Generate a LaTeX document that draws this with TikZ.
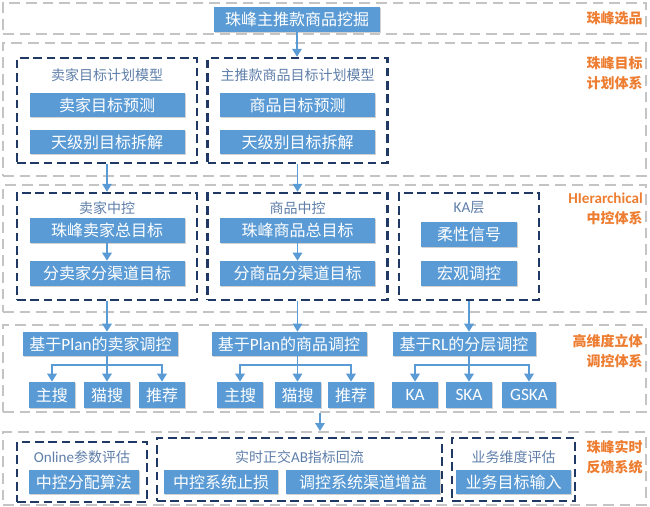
\documentclass[tikz,border=0pt]{standalone}
\usepackage{fontspec}
\setmainfont{Noto Sans CJK SC}
\newfontfamily\latfont[Scale=1.08]{Carlito}
\usetikzlibrary{positioning, arrows.meta, calc, shadows}
\definecolor{zfBlue}{HTML}{5B9BD5}
\definecolor{zfNavy}{HTML}{1F3864}
\definecolor{zfGray}{HTML}{C4C4C4}
\definecolor{zfOrange}{HTML}{ED7D31}
\definecolor{zfSteel}{HTML}{5E7EA9}

\begin{document}
\begin{tikzpicture}[x=0.75pt, y=-0.75pt,
  band/.style={draw=zfGray, line width=1.5pt, dash pattern=on 8pt off 4.5pt, inner sep=0pt, minimum width=482.25pt},
  grp/.style={draw=zfNavy, line width=1.8pt, dash pattern=on 6.5pt off 3.5pt, inner sep=0pt},
  blk/.style={fill=zfBlue, text=white, font=\fontsize{12}{14}\selectfont, inner sep=0pt, minimum height=18pt,
    drop shadow={shadow xshift=0.8pt, shadow yshift=-0.8pt, opacity=0.3, fill=black!60}},
  sub/.style={blk, minimum width=34.5pt, minimum height=19.5pt},
  ttl/.style={text=zfSteel, font=\fontsize{10.5}{12}\selectfont},
  tag/.style={anchor=east, align=right, inner sep=0pt, text=zfOrange, font=\fontsize{10.5}{15}\selectfont\bfseries},
  arr/.style={draw=zfBlue, line width=1.4pt, -{Triangle[width=7pt,length=6pt]}}]
  \useasboundingbox (0,0) rectangle (650,507);
  \node[band, minimum height=23.25pt] (b1) at (324.5,18.5)  {};
  \node[band, minimum height=99.75pt] (b2) at (324.5,109.5) {};
  \node[band, minimum height=95.25pt] (b3) at (324.5,248.5) {};
  \node[band, minimum height=65.25pt] (b4) at (324.5,368.5) {};
  \node[band, minimum height=54.75pt] (b5) at (324.5,468.5) {};
  \node[tag] (t1) at (643,18.5) {珠峰选品};
  \node[tag] (t2) at (643,73)   {珠峰目标\\计划体系};
  \node[tag] (t3) at (643,209)  {{\latfont HIerarchical}\\中控体系};
  \node[tag] (t4) at (643,351)  {高维度立体\\调控体系};
  \node[tag] (t5) at (643,457)  {珠峰实时\\反馈系统};

  \node[blk, minimum width=124.5pt, minimum height=18.75pt] (top) at (297,19.5) {珠峰主推款商品挖掘};

  \node[grp, minimum width=135pt, minimum height=78.75pt] (pA) at (107,110.5)   {};
  \node[grp, minimum width=135pt, minimum height=78.75pt] (pB) at (297.5,110.5) {};
  \node[ttl] (pAt) at (107,75)   {卖家目标计划模型};
  \node[ttl] (pBt) at (297.5,75) {主推款商品目标计划模型};
  \node[blk, minimum width=116.25pt] (pA1) at (107,105)   {卖家目标预测};
  \node[blk, minimum width=116.25pt] (pA2) at (107,142)   {天级别目标拆解};
  \node[blk, minimum width=116.25pt] (pB1) at (297.5,105) {商品目标预测};
  \node[blk, minimum width=116.25pt] (pB2) at (297.5,142) {天级别目标拆解};

  \node[grp, minimum width=135pt, minimum height=80.25pt] (cA) at (107,246.5)   {};
  \node[grp, minimum width=135pt, minimum height=80.25pt] (cB) at (297.5,246.5) {};
  \node[grp, minimum width=105pt, minimum height=80.25pt] (cC) at (469,246.5)   {};
  \node[ttl] (cAt) at (107,208)   {卖家中控};
  \node[ttl] (cBt) at (297.5,208) {商品中控};
  \node[ttl] (cCt) at (469,208)   {{\latfont KA}层};
  \node[blk, minimum width=116.25pt, minimum height=18.75pt] (cA1) at (107,230.5)   {珠峰卖家总目标};
  \node[blk, minimum width=116.25pt, minimum height=18.75pt] (cA2) at (107,273.5)   {分卖家分渠道目标};
  \node[blk, minimum width=116.25pt, minimum height=18.75pt] (cB1) at (297.5,230.5) {珠峰商品总目标};
  \node[blk, minimum width=116.25pt, minimum height=18.75pt] (cB2) at (297.5,273.5) {分商品分渠道目标};
  \node[blk, minimum width=72pt, minimum height=18.75pt] (cC1) at (469,234.5) {柔性信号};
  \node[blk, minimum width=72pt, minimum height=18.75pt] (cC2) at (469,273.5) {宏观调控};

  \node[blk, minimum width=116.25pt] (planA) at (100.5,344) {基于{\latfont Plan}的卖家调控};
  \node[blk, minimum width=116.25pt] (planB) at (289,344)   {基于{\latfont Plan}的商品调控};
  \node[blk, minimum width=107.25pt] (planC) at (464,344)   {基于{\latfont RL}的分层调控};
  \node[sub] (sA1) at (52,395)    {主搜};
  \node[sub] (sA2) at (107,395)   {猫搜};
  \node[sub] (sA3) at (162,395)   {推荐};
  \node[sub] (sB1) at (240,395)   {主搜};
  \node[sub] (sB2) at (297.5,395) {猫搜};
  \node[sub] (sB3) at (351,395)   {推荐};
  \node[sub] (sC1) at (415,395)   {\latfont KA};
  \node[sub] (sC2) at (469,395)   {\latfont SKA};
  \node[sub, minimum width=40.5pt] (sC3) at (529,395) {\latfont GSKA};

  \node[grp, minimum width=97.5pt, minimum height=45pt]     (fA) at (82,472)    {};
  \node[grp, minimum width=213.75pt, minimum height=47.25pt] (fB) at (299.5,469.5) {};
  \node[grp, minimum width=92.25pt, minimum height=47.25pt]  (fC) at (513.5,469.5) {};
  \node[ttl] (fAt) at (82,457)    {{\latfont Online}参数评估};
  \node[ttl] (fBt) at (299.5,457) {实时正交{\latfont AB}指标回流};
  \node[ttl] (fCt) at (513.5,457) {业务维度评估};
  \node[blk, minimum width=82.5pt]  (fA1) at (84,482)    {中控分配算法};
  \node[blk, minimum width=85.5pt]  (fB1) at (221,482)   {中控系统止损};
  \node[blk, minimum width=115.5pt] (fB2) at (363,482)   {调控系统渠道增益};
  \node[blk, minimum width=86.25pt] (fC1) at (513.5,482) {业务目标输入};

  \draw[arr] (top.south) -- (top.south |- pB.north);
  \draw[arr] (pA.south) -- (cA.north);
  \draw[arr] (pB.south) -- (cB.north);
  \draw[arr] (cA1) -- (cA2);
  \draw[arr] (cB1) -- (cB2);
  \draw[arr] (cA.south) -- (cA.south |- planA.north);
  \draw[arr] (cB.south) -- (cB.south |- planB.north);
  \draw[arr] (cC.south) -- (cC.south |- planC.north);

  \coordinate (jA) at ($(planA.south -| sA2)!0.35!(sA2.north)$);
  \coordinate (jB) at ($(planB.south -| sB2)!0.35!(sB2.north)$);
  \coordinate (jC) at ($(planC.south -| sC2)!0.35!(sC2.north)$);
  \draw[arr] (planA.south -| sA2) -- (sA2.north);
  \draw[arr] (jA) -| (sA1.north);
  \draw[arr] (jA) -| (sA3.north);
  \draw[arr] (planB.south -| sB2) -- (sB2.north);
  \draw[arr] (jB) -| (sB1.north);
  \draw[arr] (jB) -| (sB3.north);
  \draw[arr] (planC.south -| sC2) -- (sC2.north);
  \draw[arr] (jC) -| (sC1.north);
  \draw[arr] (jC) -| (sC3.north);

  \draw[arr] ([xshift=-3.4pt]b4.south) -- ([xshift=-3.4pt]b5.north);
\end{tikzpicture}
\end{document}
